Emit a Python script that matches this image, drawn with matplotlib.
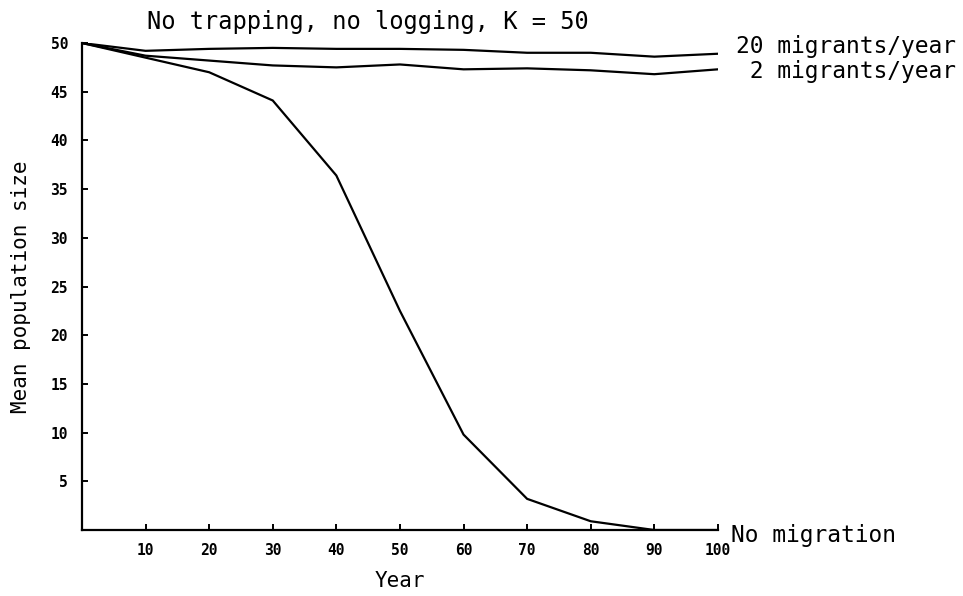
import matplotlib
matplotlib.use("Agg")
import matplotlib.pyplot as plt

years = [0, 10, 20, 30, 40, 50, 60, 70, 80, 90, 100]
migr20 = [50.0, 49.2, 49.4, 49.5, 49.4, 49.4, 49.3, 49.0, 49.0, 48.6, 48.9]
migr2 = [50.0, 48.7, 48.2, 47.7, 47.5, 47.8, 47.3, 47.4, 47.2, 46.8, 47.3]
no_migr = [50.0, 48.5, 47.0, 44.1, 36.4, 22.5, 9.8, 3.2, 0.9, 0.0, 0.0]

xticks = [10, 20, 30, 40, 50, 60, 70, 80, 90, 100]
yticks = [5, 10, 15, 20, 25, 30, 35, 40, 45, 50]

mono = "DejaVu Sans Mono"

fig = plt.figure(figsize=(9.63, 5.96), dpi=100)
ax = fig.add_axes([0.0851, 0.1107, 0.6604, 0.8171])

for ys in (migr20, migr2, no_migr):
    ax.plot(years, ys, color="black", lw=1.6, solid_joinstyle="miter")

ax.set_xlim(0, 100)
ax.set_ylim(0, 50)
ax.spines["top"].set_visible(False)
ax.spines["right"].set_visible(False)
ax.spines["left"].set_linewidth(1.6)
ax.spines["bottom"].set_linewidth(1.6)

ax.set_xticks(xticks)
ax.set_yticks(yticks)
ax.tick_params(direction="in", length=4, width=1.4, labelsize=10.5)
ax.tick_params(axis="x", pad=9)
ax.tick_params(axis="y", pad=10)
for lab in ax.get_xticklabels() + ax.get_yticklabels():
    lab.set_fontfamily(mono)
    lab.set_fontweight("bold")

ax.set_xlabel("Year", fontfamily=mono, fontsize=15, labelpad=10)
ax.set_ylabel("Mean population size", fontfamily=mono, fontsize=15, labelpad=14)

fig.text(0.153, 0.963, "No trapping, no logging, K = 50", fontfamily=mono,
         fontsize=17, va="center", ha="left")

# curve labels on the right
ax.text(102.8, migr20[-1] + 0.7, "20 migrants/year", fontfamily=mono, fontsize=16.5,
        va="center", ha="left", clip_on=False)
ax.text(102.8, migr2[-1] - 0.2, " 2 migrants/year", fontfamily=mono, fontsize=16.5,
        va="center", ha="left", clip_on=False)
ax.text(102, -0.6, "No migration", fontfamily=mono, fontsize=16.5,
        va="center", ha="left", clip_on=False)

fig.savefig("out.png", dpi=100)
